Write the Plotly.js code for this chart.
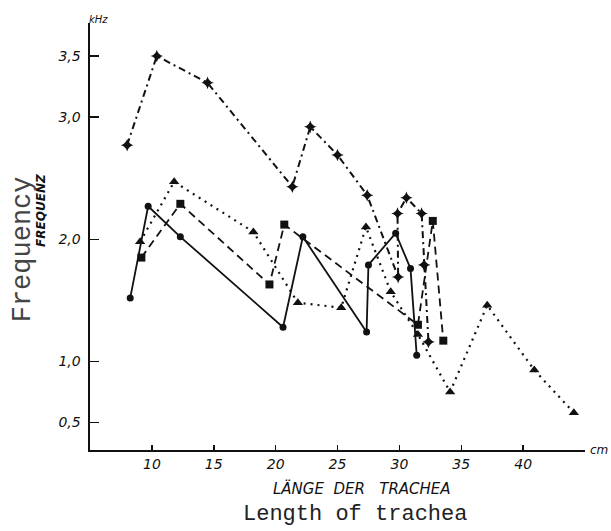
<!DOCTYPE html>
<html>
<head>
<meta charset="utf-8">
<script src="https://cdn.plot.ly/plotly-3.0.1.min.js"></script>
<style>html,body{margin:0;padding:0;background:#fff;}#chart{width:611px;height:531px;}</style>
</head>
<body>
<div id="chart"></div>
<script>
// Series (x: tracheal length in cm, y: frequency in kHz)
const solidX = [8.25, 9.7, 12.3, 20.6, 22.2, 27.35, 27.5, 29.7, 30.9, 31.4];
const solidY = [1.52, 2.27, 2.02, 1.28, 2.02, 1.24, 1.79, 2.05, 1.76, 1.05];

const dashX = [9.15, 12.3, 19.5, 20.7, 31.5, 32.7, 33.55];
const dashY = [1.85, 2.29, 1.63, 2.12, 1.30, 2.15, 1.17];

const dotX = [9.05, 11.8, 18.2, 21.8, 25.3, 27.3, 29.3, 31.5, 34.1, 37.1, 40.9, 44.1];
const dotY = [1.98, 2.47, 2.06, 1.48, 1.44, 2.10, 1.57, 1.22, 0.75, 1.46, 0.93, 0.58];

const dashdotX = [8.0, 10.4, 14.5, 21.35, 22.8, 25.0, 27.4, 29.9, 29.85, 30.57, 31.8, 32.0, 32.35];
const dashdotY = [2.77, 3.5, 3.28, 2.43, 2.92, 2.69, 2.36, 1.69, 2.21, 2.34, 2.21, 1.79, 1.16];

const xTickVals = [10, 15, 20, 25, 30, 35, 40];
const xTickText = ["10", "15", "20", "25", "30", "35", "40"];
const yTickVals = [0.5, 1.0, 2.0, 3.0, 3.5];
const yTickText = ["0,5", "1,0", "2,0", "3,0", "3,5"];

const ink = "#111";
const traces = [
  {x: dashdotX, y: dashdotY, mode: "lines+markers", line: {color: ink, width: 2, dash: "7px,4px,2px,4px"},
   marker: {symbol: "star-diamond", size: 9, color: ink}},
  {x: dotX, y: dotY, mode: "lines+markers", line: {color: ink, width: 2.2, dash: "2px,5px"},
   marker: {symbol: "triangle-up", size: 9, color: ink}},
  {x: dashX, y: dashY, mode: "lines+markers", line: {color: ink, width: 1.8, dash: "8px,5px"},
   marker: {symbol: "square", size: 8, color: ink}},
  {x: solidX, y: solidY, mode: "lines+markers", line: {color: ink, width: 1.8},
   marker: {symbol: "circle", size: 7, color: ink}}
];

const tickFont = {family: "DejaVu Sans", size: 14, color: ink, style: "italic"};

const layout = {
  width: 611, height: 531,
  margin: {l: 90, r: 26, t: 23, b: 81},
  paper_bgcolor: "#fff", plot_bgcolor: "#fff",
  showlegend: false,
  xaxis: {
    range: [5, 45], showgrid: false, zeroline: false,
    showline: true, linecolor: ink, linewidth: 2,
    ticks: "inside", ticklen: 5, tickwidth: 1.5, tickcolor: ink,
    tickvals: xTickVals, ticktext: xTickText, tickfont: tickFont
  },
  yaxis: {
    range: [0.275, 3.77], showgrid: false, zeroline: false,
    showline: true, linecolor: ink, linewidth: 2.5,
    ticks: "inside", ticklen: 9, tickwidth: 1.5, tickcolor: ink,
    tickvals: yTickVals, ticktext: yTickText, tickfont: tickFont, ticklabelstandoff: 4
  },
  annotations: [
    {text: "kHz", xref: "paper", yref: "paper", x: 0.0, y: 1.0, xanchor: "center", yanchor: "bottom", yshift: -4, xshift: 8,
     showarrow: false, font: {family: "DejaVu Sans", size: 10, color: ink, style: "italic"}},
    {text: "cm", xref: "paper", yref: "paper", x: 1.0, y: 0, xanchor: "left", yanchor: "middle", xshift: 3,
     showarrow: false, font: {family: "DejaVu Sans", size: 12, color: ink, style: "italic"}},
    {text: "LÄNGE  DER   TRACHEA", xref: "paper", yref: "paper", x: 0.55, y: 0, xanchor: "center", yanchor: "top", yshift: -27,
     showarrow: false, font: {family: "DejaVu Sans", size: 15, color: ink, style: "italic"}},
    {text: "Length of trachea", xref: "paper", yref: "paper", x: 0.535, y: 0, xanchor: "center", yanchor: "top", yshift: -50,
     showarrow: false, font: {family: "Liberation Mono", size: 22, color: "#222"}},
    {text: "Frequency", xref: "paper", yref: "paper", x: 0, y: 0.47, xanchor: "center", yanchor: "middle", xshift: -67,
     textangle: -90, showarrow: false, font: {family: "Liberation Mono", size: 27, color: "#444"}},
    {text: "<b>FREQUENZ</b>", xref: "paper", yref: "paper", x: 0, y: 0.56, xanchor: "center", yanchor: "middle", xshift: -49,
     textangle: -90, showarrow: false, font: {family: "DejaVu Sans", size: 12, color: ink, style: "italic"}}
  ]
};

Plotly.newPlot("chart", traces, layout, {staticPlot: true, displayModeBar: false});
</script>
</body>
</html>
